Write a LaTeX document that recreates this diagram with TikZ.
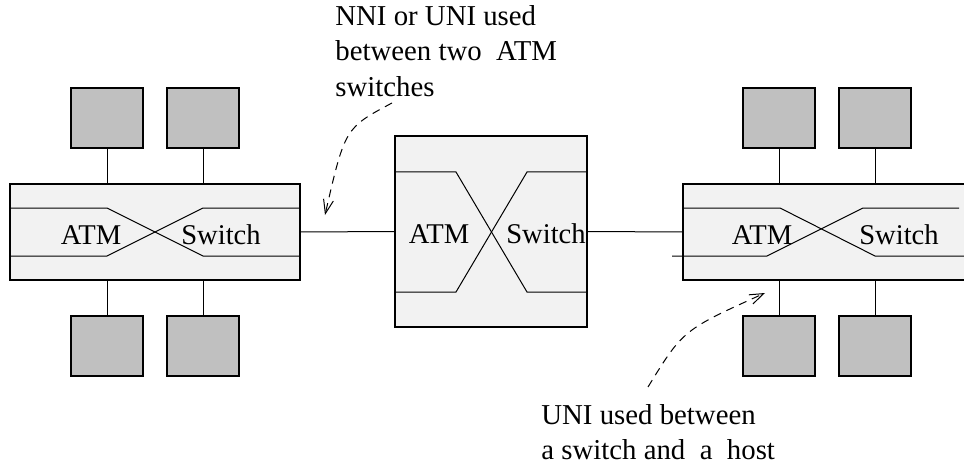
\documentclass[tikz,border=0pt]{standalone}
\usepackage{fontspec}
\setmainfont{Liberation Serif}
\usetikzlibrary{arrows.meta,positioning}
\definecolor{hostgray}{HTML}{C0C0C0}
\definecolor{switchgray}{HTML}{F2F2F2}
\tikzset{
  host/.style={draw, fill=hostgray, line width=0.6pt, minimum width=36pt, minimum height=30pt, inner sep=0pt},
  switchbox/.style={draw, fill=switchgray, line width=0.6pt, inner sep=0pt},
  wire/.style={line width=0.5pt},
  lbl/.style={anchor=base, inner sep=0pt, font=\fontsize{14.3}{17}\selectfont},
  note/.style={align=left, inner sep=0pt, font=\fontsize{14.4}{17.75}\selectfont},
  pointer/.style={line width=0.5pt, dash pattern=on 4pt off 3pt, -{Straight Barb[length=7pt,width=5pt]}}
}

\begin{document}
\begin{tikzpicture}[x=0.5pt,y=-0.5pt]
  \useasboundingbox (0,0) rectangle (964,465);
  \clip (0,0) rectangle (964,465);
  % switches
  \node[switchbox, minimum width=145pt, minimum height=48pt] (swl) at (155,232) {};
  \node[switchbox, minimum width=96pt, minimum height=95.5pt] (swm) at (491,231.5) {};
  \node[switchbox, minimum width=146pt, minimum height=48pt] (swr) at (829,232) {};
  \draw[wire] (10,208) -- (107,208) -- (203,256) -- (300,256);
  \draw[wire] (10,256) -- (107,256) -- (203,208) -- (300,208);
  \draw[wire] (395,172) -- (456,172) -- (527,292) -- (587,292);
  \draw[wire] (395,292) -- (456,292) -- (527,172) -- (587,172);
  \draw[wire] (683,208) -- (780,208) -- (875,256) -- (966,256);
  \draw[wire] (672,256) -- (767,256) -- (863,208) -- (959,208);
  \node[lbl] (atml) at (91,244) {ATM};
  \node[lbl] (swtl) at (221,244) {Switch};
  \node[lbl] (atmm) at (439,243) {ATM};
  \node[lbl] (swtm) at (546,243) {Switch};
  \node[lbl] (atmr) at (762,244) {ATM};
  \node[lbl] (swtr) at (899,244) {Switch};
  \draw[wire] (swl.east) -- (swm.west);
  \draw[wire] (swm.east) -- (swr.west);
  % hosts
  \foreach \n/\x/\s in {hl1/107/swl, hl2/203/swl, hr1/779/swr, hr2/875/swr}{
    \node[host] (\n) at (\x,118) {};
    \draw[wire] (\n) -- (\n |- \s.north);
  }
  \foreach \n/\x/\s in {hl3/107/swl, hl4/203/swl, hr3/779/swr, hr4/875/swr}{
    \node[host] (\n) at (\x,346) {};
    \draw[wire] (\n) -- (\n |- \s.south);
  }
  % notes
  \node[note, anchor=north west] (nni) at (335,5) {NNI or UNI used\\between two\ \ ATM\\switches};
  \node[note, anchor=north west] (uni) at (541,404) {UNI used between\\a switch and\ \ a\ \ host};
  \coordinate (nnifrom) at (392,103); \coordinate (nnito) at (325,215);
  \draw[pointer] (nnifrom) .. controls (345,128) .. (nnito);
  \coordinate (unifrom) at (648,387); \coordinate (unito) at (765,293);
  \draw[pointer] (unifrom) .. controls (683,330) .. (unito);
\end{tikzpicture}
\end{document}
